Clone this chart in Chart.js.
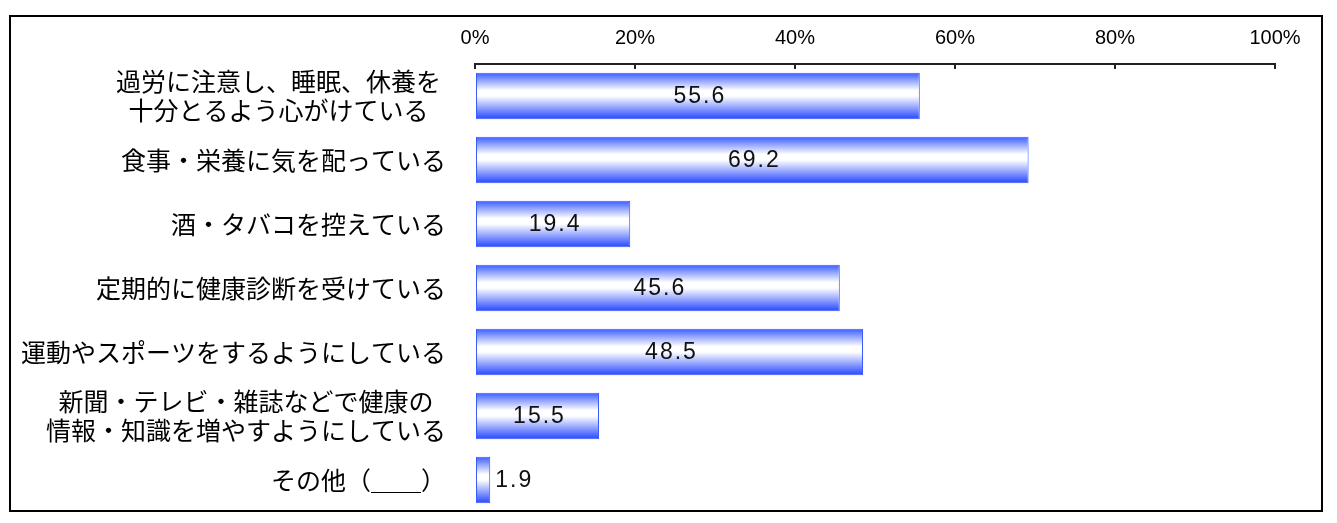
<!DOCTYPE html>
<html>
<head>
<meta charset="utf-8">
<script src="https://cdn.jsdelivr.net/npm/chart.js@4/dist/chart.umd.min.js"></script>
<style>
  html, body { margin: 0; padding: 0; background: #fff; }
  #wrap { width: 1337px; height: 523px; position: relative; }
</style>
</head>
<body>
<div id="wrap"><canvas id="c" width="1337" height="523"></canvas></div>
<script>
const categories = [
  ["過労に注意し、睡眠、休養を\u2009", "十分とるよう心がけている\u2002\u2009"],
  "食事・栄養に気を配っている",
  "酒・タバコを控えている",
  "定期的に健康診断を受けている",
  "運動やスポーツをするようにしている",
  ["新聞・テレビ・雑誌などで健康の\u2002", "情報・知識を増やすようにしている"],
  "その他（＿＿）"
];
const values = [55.6, 69.2, 19.4, 45.6, 48.5, 15.5, 1.9];
const xTicks = [0, 20, 40, 60, 80, 100];

const frame = {
  id: 'frame',
  beforeDraw(chart) {
    const ctx = chart.ctx;
    ctx.save();
    ctx.fillStyle = '#fff';
    ctx.fillRect(0, 0, chart.width, chart.height);
    ctx.strokeStyle = '#000';
    ctx.lineWidth = 2;
    ctx.strokeRect(10, 16, 1312, 495);
    ctx.restore();
  }
};

const valueLabels = {
  id: 'valueLabels',
  afterDatasetsDraw(chart) {
    const ctx = chart.ctx;
    const meta = chart.getDatasetMeta(0);
    ctx.save();
    ctx.font = '23px "Liberation Sans", Arial, sans-serif';
    try { ctx.letterSpacing = '2px'; } catch (e) {}
    ctx.fillStyle = '#111';
    ctx.textBaseline = 'middle';
    meta.data.forEach((bar, i) => {
      const txt = values[i].toFixed(1);
      const w = ctx.measureText(txt).width;
      const bw = Math.abs(bar.x - bar.base);
      if (w + 6 < bw) {
        ctx.textAlign = 'center';
        ctx.fillText(txt, (bar.x + bar.base) / 2 + 2, bar.y + 1);
      } else {
        ctx.textAlign = 'left';
        ctx.fillText(txt, bar.x + 5, bar.y + 1);
      }
    });
    ctx.restore();
  }
};

function barGradient(context) {
  const chart = context.chart;
  const ys = chart.scales.y;
  if (!ys || !chart.chartArea) return '#4466ff';
  const i = context.dataIndex;
  const c = ys.getPixelForValue(i);
  const half = (ys.height / categories.length) * 0.73 / 2;
  const g = chart.ctx.createLinearGradient(0, c - half, 0, c + half);
  g.addColorStop(0, '#3a5cff');
  g.addColorStop(0.38, '#ffffff');
  g.addColorStop(0.5, '#ffffff');
  g.addColorStop(1, '#2545ff');
  return g;
}

new Chart(document.getElementById('c'), {
  type: 'bar',
  data: {
    labels: categories,
    datasets: [{
      data: values,
      backgroundColor: barGradient,
      borderColor: '#3a5cff',
      borderWidth: 1,
      borderSkipped: false,
      barPercentage: 0.73,
      categoryPercentage: 1.0
    }]
  },
  options: {
    indexAxis: 'y',
    responsive: false,
    animation: false,
    layout: { padding: { left: 0, right: 62, top: 0, bottom: 11 } },
    plugins: { legend: { display: false }, tooltip: { enabled: false } },
    scales: {
      x: {
        position: 'top',
        min: 0,
        max: 100,
        afterBuildTicks(scale) { scale.ticks = xTicks.map(v => ({ value: v })); },
        afterFit(scale) { scale.height = 64; },
        ticks: {
          callback: v => v + '%',
          color: '#000',
          padding: 19,
          maxRotation: 0,
          font: { family: '"Liberation Sans", Arial, sans-serif', size: 20 }
        },
        grid: { drawOnChartArea: false, tickLength: -5, color: '#222', lineWidth: 2 },
        border: { display: true, color: '#222', width: 2 }
      },
      y: {
        afterFit(scale) { scale.width = 475; scale.paddingTop = 0; scale.paddingBottom = 0; },
        grid: { display: false },
        border: { display: false },
        ticks: {
          color: '#000',
          padding: 21,
          autoSkip: false,
          font: { family: '"Noto Sans CJK JP", sans-serif', size: 25, lineHeight: 1.16 }
        }
      }
    }
  },
  plugins: [frame, valueLabels]
});
</script>
</body>
</html>
